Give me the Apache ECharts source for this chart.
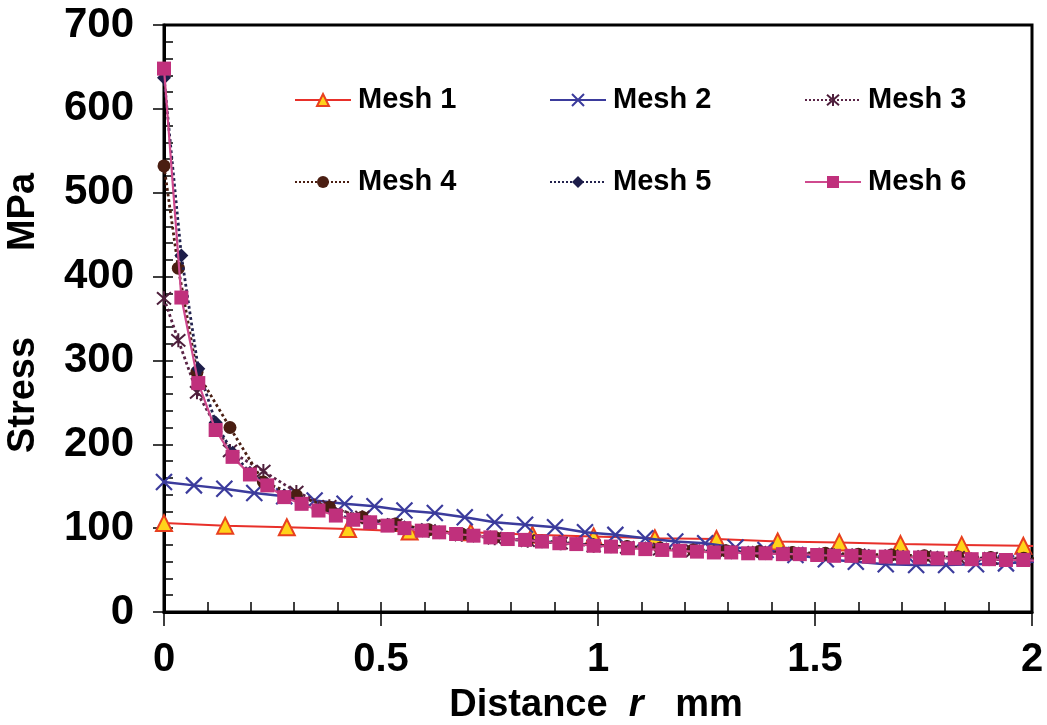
<!DOCTYPE html>
<html><head><meta charset="utf-8">
<script src="https://cdn.jsdelivr.net/npm/echarts@6.0.0/dist/echarts.min.js"></script>
<style>html,body{margin:0;padding:0;background:#fff}#c{width:1047px;height:725px}</style>
</head><body><div id="c"></div><script>
// ---------- data ----------
const seriesNames = ['Mesh 1', 'Mesh 2', 'Mesh 3', 'Mesh 4', 'Mesh 5', 'Mesh 6'];

const mesh1X = [0, 0.141, 0.283, 0.424, 0.566, 0.707, 0.849, 0.990, 1.131, 1.273, 1.414, 1.556, 1.697, 1.838, 1.980, 2.121];
const mesh1Y = [106, 103, 101, 99, 96, 95, 92, 90, 88, 87, 84, 83, 81, 80, 79, 78];

const mesh2X = [0, 0.069, 0.139, 0.208, 0.277, 0.347, 0.416, 0.485, 0.554, 0.624, 0.693, 0.762, 0.832, 0.901, 0.970,
                1.040, 1.109, 1.178, 1.247, 1.317, 1.386, 1.455, 1.525, 1.594, 1.663, 1.733, 1.802, 1.871, 1.940, 2.010];
const mesh2Y = [155, 151, 147, 142, 138, 133, 129, 126, 121, 118, 113, 107, 104, 101, 95,
                92, 88, 84, 82, 77, 74, 68, 63, 60, 57, 56, 56, 57, 58, 60];

const mesh34X = [0, 0.033, 0.076, 0.152, 0.229, 0.305, 0.381, 0.457, 0.533, 0.610, 0.686, 0.762, 0.838, 0.914, 0.990,
                 1.067, 1.143, 1.219, 1.295, 1.371, 1.448, 1.524, 1.600, 1.676, 1.752, 1.829, 1.905, 1.981, 2.057];
const mesh3Y = [374, 324, 262, 192, 168, 143, 126, 113, 104, 97, 92, 88, 85, 82, 79,
                77, 75, 73, 72, 71, 70, 69, 68, 67, 66, 65, 64, 63, 62];
const mesh4Y = [532, 410, 286, 220, 155, 139, 125, 113, 105, 98, 93, 89, 86, 83, 80,
                78, 76, 74, 73, 72, 71, 70, 69, 68, 67, 66, 65, 64, 63];

const mesh56X = [0, 0.040, 0.079, 0.119, 0.158, 0.198, 0.238, 0.277, 0.317, 0.356, 0.396, 0.436, 0.475, 0.515, 0.554,
                 0.594, 0.634, 0.673, 0.713, 0.752, 0.792, 0.832, 0.871, 0.911, 0.950, 0.990, 1.030, 1.069, 1.109, 1.148,
                 1.188, 1.228, 1.267, 1.307, 1.346, 1.386, 1.426, 1.465, 1.505, 1.544, 1.584, 1.624, 1.663, 1.703, 1.742,
                 1.782, 1.822, 1.861, 1.901, 1.940, 1.980, 2.020];
const mesh5Y = [637, 425, 290, 226, 190, 166, 152, 139, 130, 122, 116, 111, 107, 104, 101,
                98, 95, 93, 91, 89, 87, 86, 84, 83, 81, 80, 78, 77, 76, 75,
                74, 73, 72, 71, 71, 70, 70, 69, 68, 68, 67, 67, 66, 66, 65,
                65, 64, 63, 63, 62, 62, 61];
const mesh6Y = [648, 375, 273, 217, 185, 164, 151, 137, 129, 121, 115, 110, 107, 103, 100,
                97, 95, 93, 91, 89, 87, 86, 84, 82, 81, 79, 78, 76, 75, 74,
                73, 72, 71, 71, 70, 70, 69, 69, 68, 67, 67, 66, 66, 65, 65,
                64, 64, 63, 63, 62, 62, 61];

const xTicks = { min: 0, max: 2, interval: 0.5 };
const yTicks = { min: 0, max: 700, interval: 100 };

// ---------- styles ----------
const pts = (xs, ys) => xs.map((x, i) => [x, ys[i]]);
const xPath = 'path://M0,0L16,16M16,0L0,16';
const starPath = 'path://M0,0L14,14M14,0L0,14M7,-1L7,15';

const styles = [
  { data: pts(mesh1X, mesh1Y), symbol: 'triangle', size: 16,
    item: { color: '#ffd21a', borderColor: '#e8401f', borderWidth: 2 }, line: { color: '#e8302a', width: 2, type: 'solid' } },
  { data: pts(mesh2X, mesh2Y), symbol: xPath, size: 16,
    item: { color: '#3b3b9c', borderColor: '#3b3b9c', borderWidth: 2.2 }, line: { color: '#3b3b9c', width: 2.5, type: 'solid' } },
  { data: pts(mesh34X, mesh3Y), symbol: starPath, size: 14,
    item: { color: '#4e1f3c', borderColor: '#4e1f3c', borderWidth: 2 }, line: { color: '#5a2446', width: 2.8, type: 'dotted' } },
  { data: pts(mesh34X, mesh4Y), symbol: 'circle', size: 13,
    item: { color: '#4a1e12', borderColor: '#4a1e12', borderWidth: 0 }, line: { color: '#4a1e12', width: 2.8, type: 'dotted' } },
  { data: pts(mesh56X, mesh5Y), symbol: 'diamond', size: 14,
    item: { color: '#1d1d4a', borderColor: '#1d1d4a', borderWidth: 0 }, line: { color: '#22224e', width: 2.8, type: 'dotted' } },
  { data: pts(mesh56X, mesh6Y), symbol: 'rect', size: 14,
    item: { color: '#c0307c', borderColor: '#c0307c', borderWidth: 0 }, line: { color: '#cf4a8e', width: 2.2, type: 'solid' } }
];

const tickFont = "'Liberation Sans', Arial, sans-serif";
const legendFont = "'Liberation Sans', Arial, sans-serif";
const legendCols = [294, 549, 804];
const legendRows = [83, 165];

const chart = echarts.init(document.getElementById('c'), null, { renderer: 'canvas' });

const axisBase = (t) => ({ type: 'value', min: t.min, max: t.max, interval: t.interval, splitLine: { show: false } });

chart.setOption({
  animation: false,
  backgroundColor: '#fff',
  grid: { left: 164, right: 15, top: 25, bottom: 113, show: true, borderColor: '#000', borderWidth: 3, backgroundColor: 'transparent' },
  xAxis: [
    Object.assign(axisBase(xTicks), {
      position: 'bottom',
      axisLine: { show: true, lineStyle: { color: '#000', width: 3 } },
      axisTick: { show: true, inside: false, length: 14, lineStyle: { color: '#000', width: 1.5 } },
      axisLabel: { show: true, margin: 28, color: '#000', fontFamily: tickFont, fontWeight: 'bold', fontSize: 40 }
    }),
    Object.assign(axisBase(xTicks), {
      position: 'bottom',
      axisLine: { show: false },
      axisTick: { show: true, inside: true, length: 10, lineStyle: { color: '#000', width: 1.5 } },
      minorTick: { show: true, splitNumber: 5, length: 10, lineStyle: { color: '#000', width: 1.5 } },
      axisLabel: { show: false }
    })
  ],
  yAxis: [
    Object.assign(axisBase(yTicks), {
      position: 'left',
      axisLine: { show: true, lineStyle: { color: '#000', width: 3 } },
      axisTick: { show: true, inside: false, length: 11, lineStyle: { color: '#000', width: 1.5 } },
      axisLabel: { show: true, margin: 30, color: '#000', fontFamily: tickFont, fontWeight: 'bold', fontSize: 42 }
    }),
    Object.assign(axisBase(yTicks), {
      position: 'left',
      axisLine: { show: false },
      axisTick: { show: true, inside: true, length: 9, lineStyle: { color: '#000', width: 1.5 } },
      minorTick: { show: true, splitNumber: 5, length: 9, lineStyle: { color: '#000', width: 1.5 } },
      axisLabel: { show: false }
    })
  ],
  legend: seriesNames.map((n, i) => ({
    data: [n], left: legendCols[i % 3], top: legendRows[Math.floor(i / 3)],
    orient: 'horizontal', padding: 0, itemGap: 0, itemWidth: 56, itemHeight: 15,
    selectedMode: false,
    textStyle: { color: '#000', fontFamily: legendFont, fontWeight: 'bold', fontSize: 29, lineHeight: 34, padding: [0, 0, 0, 2] }
  })),
  graphic: [
    { type: 'text', x: 24, y: 395, rotation: Math.PI / 2,
      style: { text: 'Stress', fill: '#000', font: "bold 38px 'Liberation Sans', Arial, sans-serif", align: 'center', verticalAlign: 'middle' } },
    { type: 'text', x: 24, y: 212, rotation: Math.PI / 2,
      style: { text: 'MPa', fill: '#000', font: "bold 38px 'Liberation Sans', Arial, sans-serif", align: 'center', verticalAlign: 'middle' } },
    { type: 'text', x: 596, y: 706,
      style: { text: '{a|Distance  }{i|r}{a|   mm}', align: 'center', verticalAlign: 'middle',
        rich: {
          a: { fill: '#000', fontFamily: "'Liberation Sans', Arial, sans-serif", fontWeight: 'bold', fontSize: 38 },
          i: { fill: '#000', fontFamily: "'Liberation Sans', Arial, sans-serif", fontWeight: 'bold', fontStyle: 'italic', fontSize: 38 }
        } } }
  ],
  series: styles.map((s, i) => ({
    name: seriesNames[i], type: 'line', xAxisIndex: 0, yAxisIndex: 0,
    data: s.data, symbol: s.symbol, symbolSize: s.size, showAllSymbol: true, clip: true,
    itemStyle: s.item, lineStyle: s.line, emphasis: { disabled: true }, z: 2 + i
  }))
});
</script></body></html>
